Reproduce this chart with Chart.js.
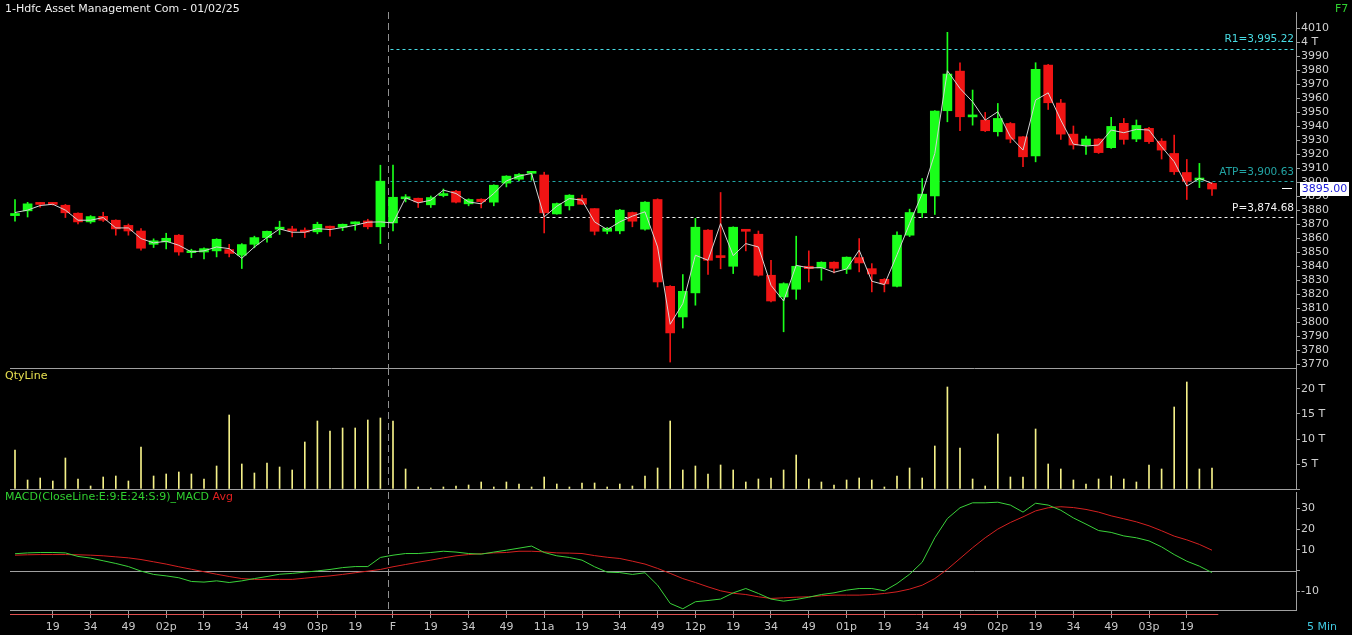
<!DOCTYPE html>
<html>
<head>
<meta charset="utf-8">
<script src="https://cdn.jsdelivr.net/npm/chart.js@4.4.1/dist/chart.umd.min.js"></script>
<style>
  html, body { margin: 0; padding: 0; background: #000; width: 1352px; height: 635px; overflow: hidden; }
  canvas { position: absolute; left: 0; }
  #price { top: 0; }
  #qty { top: 368px; }
  #macd { top: 488px; }
  .lbl { position: absolute; font-family: "DejaVu Sans", sans-serif; font-size: 11px; line-height: 13px; white-space: nowrap; }
</style>
</head>
<body>
<canvas id="price" width="1352" height="370"></canvas>
<canvas id="qty" width="1352" height="122"></canvas>
<canvas id="macd" width="1352" height="147"></canvas>
<div class="lbl" style="left:5px;top:2px;color:#f0f0f0">1-Hdfc Asset Management Com - 01/02/25</div>
<div class="lbl" style="left:1335px;top:2px;color:#30d030">F7</div>
<div class="lbl" style="left:5px;top:369px;color:#e8e050">QtyLine</div>
<div class="lbl" style="left:5px;top:490px;color:#30d030">MACD(CloseLine:E:9:E:24:S:9)_MACD <span style="color:#e02020">Avg</span></div>
<div class="lbl" style="left:1307px;top:620px;color:#40c8e0">5 Min</div>
<script>
// 5 min candles, index 0..95 (day break after index 29)
const opens = [3876, 3879.4, 3885, 3884.5, 3883.4, 3877.7, 3871.5, 3875.5, 3872.7, 3869,
  3865, 3855.5, 3857.2, 3862, 3849.5, 3850, 3850.8, 3851.7, 3847.7, 3855.5,
  3860.3, 3866.3, 3866.5, 3865, 3864.4, 3868.4, 3867.7, 3870.1, 3872.2, 3868,
  3870.8, 3888, 3888.4, 3883.7, 3890.3, 3893.4, 3884.4, 3887.7, 3885.6, 3899.2,
  3902, 3906.2, 3905, 3877.2, 3883, 3888.2, 3881, 3864.8, 3865.1, 3878.2,
  3866.3, 3887.5, 3825.5, 3803.6, 3820.8, 3865.6, 3846.7, 3839.8, 3865.3, 3862.7,
  3833.4, 3817.9, 3823.4, 3839.8, 3838.6, 3842.7, 3837.7, 3846, 3838.1, 3830.5,
  3825.5, 3862, 3878, 3890.1, 3950.9, 3979.2, 3946.5, 3944.2, 3935.9, 3941.8,
  3932.3, 3918.7, 3983.5, 3956.4, 3934.2, 3926.4, 3930.7, 3924.5, 3941.9, 3930.7,
  3938.3, 3929.2, 3920.4, 3906.8, 3901.4, 3899];
const highs = [3887.5, 3885.5, 3885.5, 3885, 3884, 3878, 3876, 3878.4, 3873, 3870,
  3866.7, 3859.4, 3863.4, 3862.5, 3852, 3853, 3859.5, 3855.5, 3856, 3861.3,
  3865, 3872, 3868.4, 3867.2, 3871.3, 3868.5, 3870, 3871.5, 3873.4, 3912,
  3912, 3891, 3888.5, 3890, 3895, 3894, 3888, 3888, 3898, 3904.5,
  3906, 3907, 3907, 3885, 3891, 3890.6, 3881, 3867.5, 3880.5, 3878.5,
  3886, 3888, 3826, 3833.9, 3874, 3866, 3892.5, 3868, 3865.5, 3865,
  3844, 3828, 3861.3, 3850.8, 3843, 3843, 3846.5, 3859.6, 3841.7, 3831,
  3864.4, 3880.6, 3902.5, 3951, 4006.9, 3985.2, 3965.7, 3949.7, 3956.1, 3942.5,
  3932.5, 3985.2, 3984, 3959, 3940, 3932.8, 3931, 3946.2, 3945.4, 3944.3,
  3939, 3931, 3933.5, 3916.1, 3913.3, 3899.5];
const lows = [3872, 3875, 3882, 3883.5, 3874.6, 3870, 3870.5, 3871.8, 3862, 3862,
  3851.3, 3853.2, 3852.2, 3847.7, 3846, 3845, 3846.5, 3846.5, 3838.2, 3853,
  3857, 3862.5, 3860.8, 3860.3, 3863, 3861.3, 3865.3, 3865.6, 3866.5, 3856,
  3865, 3885.8, 3881.8, 3881.8, 3889.4, 3885, 3883, 3881.5, 3883, 3896.5,
  3901, 3901.3, 3863.6, 3877, 3880, 3884, 3862.2, 3863, 3863, 3868,
  3865.6, 3825, 3771.4, 3795.7, 3812, 3834, 3838, 3834.6, 3850.8, 3832.7,
  3814.3, 3793, 3816.2, 3828.6, 3829.8, 3835, 3834.6, 3835.8, 3821.5, 3821.5,
  3825, 3861, 3874.6, 3876.8, 3943, 3936.6, 3940.6, 3936, 3932.8, 3928,
  3911, 3914.4, 3951.8, 3930.4, 3923.5, 3919.7, 3920.4, 3924, 3927, 3928.8,
  3927.6, 3916.4, 3905.4, 3887.5, 3896, 3890.4];
const closes = [3877.5, 3884.4, 3884, 3884, 3878, 3871.5, 3875.3, 3872.7, 3866.5, 3865,
  3852.7, 3858, 3859.8, 3850, 3850.5, 3852.4, 3859.1, 3849, 3855.3, 3860.3,
  3864.8, 3867.2, 3865, 3864.2, 3869.8, 3867, 3869.8, 3870.8, 3868, 3900.6,
  3889.1, 3889, 3885.8, 3888.9, 3891.5, 3885.6, 3887.5, 3886, 3897.7, 3904.2,
  3905.4, 3906.9, 3878, 3884.6, 3890.6, 3884.1, 3864.8, 3867, 3879.9, 3872,
  3885.6, 3828.6, 3792.2, 3821.9, 3867.7, 3844.1, 3846, 3867.7, 3864.8, 3833.4,
  3815, 3827.4, 3839.8, 3838.1, 3842.7, 3838.4, 3846.3, 3842.2, 3834.3, 3827.2,
  3862, 3878.2, 3891.3, 3950.6, 3977.1, 3946.6, 3947, 3936.6, 3945.4, 3930.6,
  3918, 3980.4, 3956.6, 3934.2, 3926.4, 3930.7, 3921, 3939.7, 3930.4, 3940.4,
  3928.8, 3922.8, 3907.3, 3900.6, 3902.8, 3895];
// thin grey line drawn over the candles
const closeLine = [3878.2, 3879.9, 3883.2, 3884.1, 3879.9, 3872.7, 3872.7, 3874.6, 3867.2, 3867.2,
  3859.6, 3856.5, 3857.7, 3854.8, 3850.1, 3850.8, 3853.6, 3852.4, 3845.5, 3853.6,
  3860.3, 3866.5, 3864.1, 3864.1, 3866.7, 3866, 3867.5, 3869.1, 3871.3, 3871.5,
  3870.8, 3888.7, 3885.1, 3887, 3894.2, 3891.8, 3885.8, 3884.4, 3891.8, 3900.8,
  3904.2, 3906.1, 3875.1, 3882.7, 3888.2, 3887, 3871.5, 3866, 3871.5, 3875.6,
  3878.7, 3853.6, 3798.4, 3813.1, 3847.7, 3844.1, 3870.3, 3847.4, 3856, 3853.6,
  3826.2, 3815, 3840.5, 3838.6, 3838.9, 3835.5, 3837.9, 3851.3, 3829.1, 3826.7,
  3848, 3870.3, 3891.8, 3920.4, 3979.5, 3966.8, 3957.3, 3944.2, 3950.2, 3932.3,
  3922.8, 3958.5, 3963.7, 3944.2, 3927, 3925.7, 3926.4, 3937.1, 3935.2, 3937.6,
  3937.1, 3925.2, 3914.5, 3897.1, 3902.6, 3899];
// quantity in thousands (T)
const qty = [7.8, 1.8, 2.2, 1.6, 6.2, 2.0, 0.6, 2.4, 2.6, 1.6,
  8.4, 2.6, 3.0, 3.4, 3.0, 2.0, 4.6, 14.8, 5.0, 3.2,
  5.2, 4.4, 3.8, 9.4, 13.6, 11.6, 12.2, 12.2, 13.8, 14.2,
  13.6, 4.0, 0.4, 0.2, 0.4, 0.6, 0.8, 1.4, 0.4, 1.4,
  1.0, 0.4, 2.4, 1.0, 0.4, 1.2, 1.2, 0.4, 1.0, 0.6,
  2.6, 4.2, 13.6, 3.8, 4.6, 3.0, 4.8, 3.8, 1.4, 2.0,
  2.2, 3.8, 6.8, 2.0, 1.4, 0.8, 1.8, 2.2, 1.8, 0.4,
  2.6, 4.2, 2.2, 8.6, 20.4, 8.2, 2.0, 0.6, 11.0, 2.4,
  2.4, 12.0, 5.0, 4.0, 1.8, 1.0, 2.0, 2.6, 2.0, 1.4,
  4.8, 4.0, 16.4, 21.4, 4.0, 4.2];
const macdVals = [8.1, 8.5, 8.7, 8.7, 8.5, 6.8, 6.0, 4.7, 3.4, 1.9,
  -0.3, -1.9, -2.6, -3.5, -5.3, -5.6, -5.0, -5.8, -5.0, -3.9,
  -2.9, -1.8, -1.4, -0.8, -0.2, 0.5, 1.4, 1.9, 1.9, 6.3,
  7.4, 8.2, 8.2, 8.7, 9.3, 8.9, 8.2, 7.9, 8.9, 9.8,
  10.8, 11.8, 8.7, 7.1, 6.3, 5.0, 1.8, -0.8, -1.0, -1.9,
  -1.1, -7.1, -15.9, -18.5, -15.1, -14.5, -13.8, -10.8, -8.7, -11.1,
  -13.8, -14.8, -14.0, -12.9, -11.6, -10.8, -9.5, -8.7, -8.7, -9.8,
  -6.3, -1.8, 4.0, 15.8, 25.1, 30.3, 32.7, 32.7, 33.0, 31.6,
  28.2, 32.5, 31.6, 29.1, 25.4, 22.4, 19.3, 18.4, 16.7, 15.8,
  14.3, 11.4, 7.7, 4.5, 2.1, -1.0];
const avgVals = [7.4, 7.6, 7.7, 7.7, 7.7, 7.6, 7.4, 7.1, 6.6, 6.1,
  5.3, 4.2, 3.1, 1.8, 0.6, -0.6, -1.8, -2.9, -3.9, -4.3,
  -4.3, -4.3, -4.3, -3.7, -3.1, -2.6, -1.9, -1.1, -0.3, 0.5,
  1.8, 2.9, 4.0, 5.0, 6.1, 7.1, 7.7, 8.1, 8.5, 8.7,
  9.3, 9.3, 9.0, 8.5, 8.4, 8.2, 7.2, 6.4, 5.8, 4.5,
  3.1, 1.0, -1.4, -3.9, -5.8, -7.9, -9.8, -11.0, -11.6, -12.7,
  -13.5, -13.2, -12.9, -12.7, -12.2, -11.9, -11.9, -11.9, -11.6, -11.1,
  -10.3, -9.0, -7.1, -3.9, 0.6, 5.8, 11.0, 15.8, 20.0, 23.2,
  25.9, 28.8, 30.3, 30.8, 30.4, 29.5, 28.2, 26.4, 25.0, 23.5,
  21.6, 19.2, 16.6, 14.8, 12.6, 9.8];

const xTickPos = [3, 6, 9, 12, 15, 18, 21, 24, 27, 30, 33, 36, 39, 42, 45, 48, 51, 54, 57, 60,
  63, 66, 69, 72, 75, 78, 81, 84, 87, 90, 93];
const xTickLabels = ['19', '34', '49', '02p', '19', '34', '49', '03p', '19', 'F', '19', '34', '49', '11a',
  '19', '34', '49', '12p', '19', '34', '49', '01p', '19', '34', '49', '02p', '19', '34', '49', '03p', '19'];
const priceTicks = [3770, 3780, 3790, 3800, 3810, 3820, 3830, 3840, 3850, 3860, 3870, 3880, 3890,
  3900, 3910, 3920, 3930, 3940, 3950, 3960, 3970, 3980, 3990, 4000, 4010];
const qtyTicks = [0, 5, 10, 15, 20];
const qtyTickLabels = ['', '5 T', '10 T', '15 T', '20 T'];
const macdTicks = [-10, 0, 10, 20, 30];
const macdTickLabels = ['-10', '', '10', '20', '30'];

const refNames = ['R1=3,995.22', 'ATP=3,900.63', 'P=3,874.68'];
const refValues = [3995.22, 3900.63, 3874.68];
const refStart = 29.8;
const dayBreak = 29.6;
const lastPrice = 3895.00;

// styles
const UP = '#1aff1a', DOWN = '#f01414';
const AXIS = '#a0a0a0', LABEL = '#d0d0d0';
const FONT = { family: 'DejaVu Sans', size: 11 };
const refColors = ['#48dce4', '#22a4a4', '#f4f4f4'];
const X_MIN = -15 / 12.6, X_MAX = 1281 / 12.6;

const candleColors = opens.map((o, i) => closes[i] >= o ? UP : DOWN);

function fixY(s) {
  s.width = 56;
  s.paddingTop = 0;
  s.paddingBottom = 0;
}

function yAxis(min, max, tickValues, labelFn) {
  return {
    position: 'right', min: min, max: max,
    afterBuildTicks: s => { s.ticks = tickValues.map(v => ({ value: v })); },
    afterFit: fixY,
    grid: { drawOnChartArea: false, tickLength: 4, color: AXIS },
    border: { color: AXIS },
    ticks: { color: LABEL, font: FONT, padding: 1, autoSkip: false, callback: labelFn }
  };
}

const hiddenX = { type: 'linear', min: X_MIN, max: X_MAX, offset: false, display: false };

function hline(ctx, x1, x2, y, color, dash) {
  ctx.save();
  ctx.strokeStyle = color;
  ctx.lineWidth = 1;
  ctx.setLineDash(dash || []);
  ctx.beginPath();
  ctx.moveTo(x1, Math.round(y) + 0.5);
  ctx.lineTo(x2, Math.round(y) + 0.5);
  ctx.stroke();
  ctx.restore();
}

function dayLine(chart) {
  const ctx = chart.ctx, a = chart.chartArea;
  const x = Math.round(chart.scales.x.getPixelForValue(dayBreak)) + 0.5;
  ctx.save();
  ctx.strokeStyle = '#909090';
  ctx.setLineDash([7, 4]);
  ctx.beginPath();
  ctx.moveTo(x, a.top);
  ctx.lineTo(x, a.bottom);
  ctx.stroke();
  ctx.restore();
}

const pricePlugin = {
  id: 'priceDeco',
  beforeDatasetsDraw(chart) {
    const ctx = chart.ctx, a = chart.chartArea, sx = chart.scales.x, sy = chart.scales.y;
    dayLine(chart);
    const x0 = sx.getPixelForValue(refStart);
    refValues.forEach((v, k) => {
      hline(ctx, x0, a.right, sy.getPixelForValue(v), refColors[k], [3, 3]);
    });
    hline(ctx, 10, a.right, a.bottom, AXIS);
  },
  afterDraw(chart) {
    const ctx = chart.ctx, a = chart.chartArea, sy = chart.scales.y;
    ctx.save();
    ctx.font = '10.5px "DejaVu Sans"';
    ctx.textAlign = 'right';
    ctx.textBaseline = 'middle';
    refValues.forEach((v, k) => {
      ctx.fillStyle = refColors[k];
      ctx.fillText(refNames[k], a.right - 2, sy.getPixelForValue(v) - 9);
    });
    const y = Math.round(sy.getPixelForValue(lastPrice));
    ctx.fillStyle = '#ffffff';
    ctx.fillRect(a.right - 14, y - 1, 10, 1);
    ctx.fillRect(a.right + 4, y - 7, 49, 14);
    ctx.fillStyle = '#2020d8';
    ctx.font = '11px "DejaVu Sans"';
    ctx.textAlign = 'center';
    ctx.fillText(lastPrice.toFixed(2), a.right + 28.5, y);
    ctx.restore();
  }
};

new Chart(document.getElementById('price'), {
  type: 'bar',
  data: {
    datasets: [
      { type: 'line', data: closeLine.map((v, i) => ({ x: i, y: v })), borderColor: '#d4d4d4',
        borderWidth: 1, pointRadius: 0, tension: 0, order: 0 },
      { data: opens.map((o, i) => ({ x: i, y: [o, closes[i]] })), backgroundColor: candleColors,
        barThickness: 9, minBarLength: 2, grouped: false, order: 1 },
      { data: lows.map((l, i) => ({ x: i, y: [l, highs[i]] })), backgroundColor: candleColors,
        barThickness: 1, grouped: false, order: 2 }
    ]
  },
  options: {
    responsive: false, animation: false,
    layout: { padding: { top: 12, bottom: 2, left: 0, right: 0 } },
    plugins: { legend: { display: false }, tooltip: { enabled: false } },
    scales: {
      x: hiddenX,
      y: yAxis(3770 - 4 / 1.4, 4010 + 16 / 1.4, priceTicks, v => v === 4000 ? '4 T' : String(v))
    }
  },
  plugins: [pricePlugin]
});

new Chart(document.getElementById('qty'), {
  type: 'bar',
  data: {
    datasets: [
      { data: qty.map((v, i) => ({ x: i, y: v })), backgroundColor: '#f4f088', barThickness: 1, grouped: false }
    ]
  },
  options: {
    responsive: false, animation: false,
    layout: { padding: { top: 0, bottom: 1, left: 0, right: 0 } },
    plugins: { legend: { display: false }, tooltip: { enabled: false } },
    scales: {
      x: hiddenX,
      y: yAxis(0, 24.2, qtyTicks, (v, i) => qtyTickLabels[i])
    }
  },
  plugins: [{
    id: 'qtyDeco',
    beforeDatasetsDraw(chart) {
      dayLine(chart);
      hline(chart.ctx, 10, chart.chartArea.right, chart.chartArea.bottom, AXIS);
    }
  }]
});

new Chart(document.getElementById('macd'), {
  type: 'line',
  data: {
    datasets: [
      { data: macdVals.map((v, i) => ({ x: i, y: v })), borderColor: '#3ad23a', borderWidth: 1, pointRadius: 0, tension: 0 },
      { data: avgVals.map((v, i) => ({ x: i, y: v })), borderColor: '#d42020', borderWidth: 1, pointRadius: 0, tension: 0 }
    ]
  },
  options: {
    responsive: false, animation: false,
    layout: { padding: { top: 4, bottom: 0, left: 0, right: 0 } },
    plugins: { legend: { display: false }, tooltip: { enabled: false } },
    scales: {
      x: {
        type: 'linear', min: X_MIN, max: X_MAX, offset: false,
        afterBuildTicks: s => { s.ticks = xTickPos.map(v => ({ value: v })); },
        afterFit: s => { s.height = 25; s.paddingLeft = 0; s.paddingRight = 0; },
        grid: { drawOnChartArea: false, tickLength: 8, color: AXIS },
        border: { display: false },
        ticks: { color: '#c8c8c8', font: FONT, padding: 3, maxRotation: 0, autoSkip: false,
          callback: (v, i) => xTickLabels[i] }
      },
      y: yAxis(-39.5 / 2.07, 78.5 / 2.07, macdTicks, (v, i) => macdTickLabels[i])
    }
  },
  plugins: [{
    id: 'macdDeco',
    beforeDatasetsDraw(chart) {
      const ctx = chart.ctx, a = chart.chartArea;
      dayLine(chart);
      hline(ctx, 10, a.right, chart.scales.y.getPixelForValue(0), AXIS);
      hline(ctx, 10, a.right, a.bottom, AXIS);
    },
    afterDraw(chart) {
      const a = chart.chartArea;
      hline(chart.ctx, 10, chart.scales.x.getPixelForValue(95.5), a.bottom + 4, '#e05050');
    }
  }]
});
</script>
</body>
</html>
